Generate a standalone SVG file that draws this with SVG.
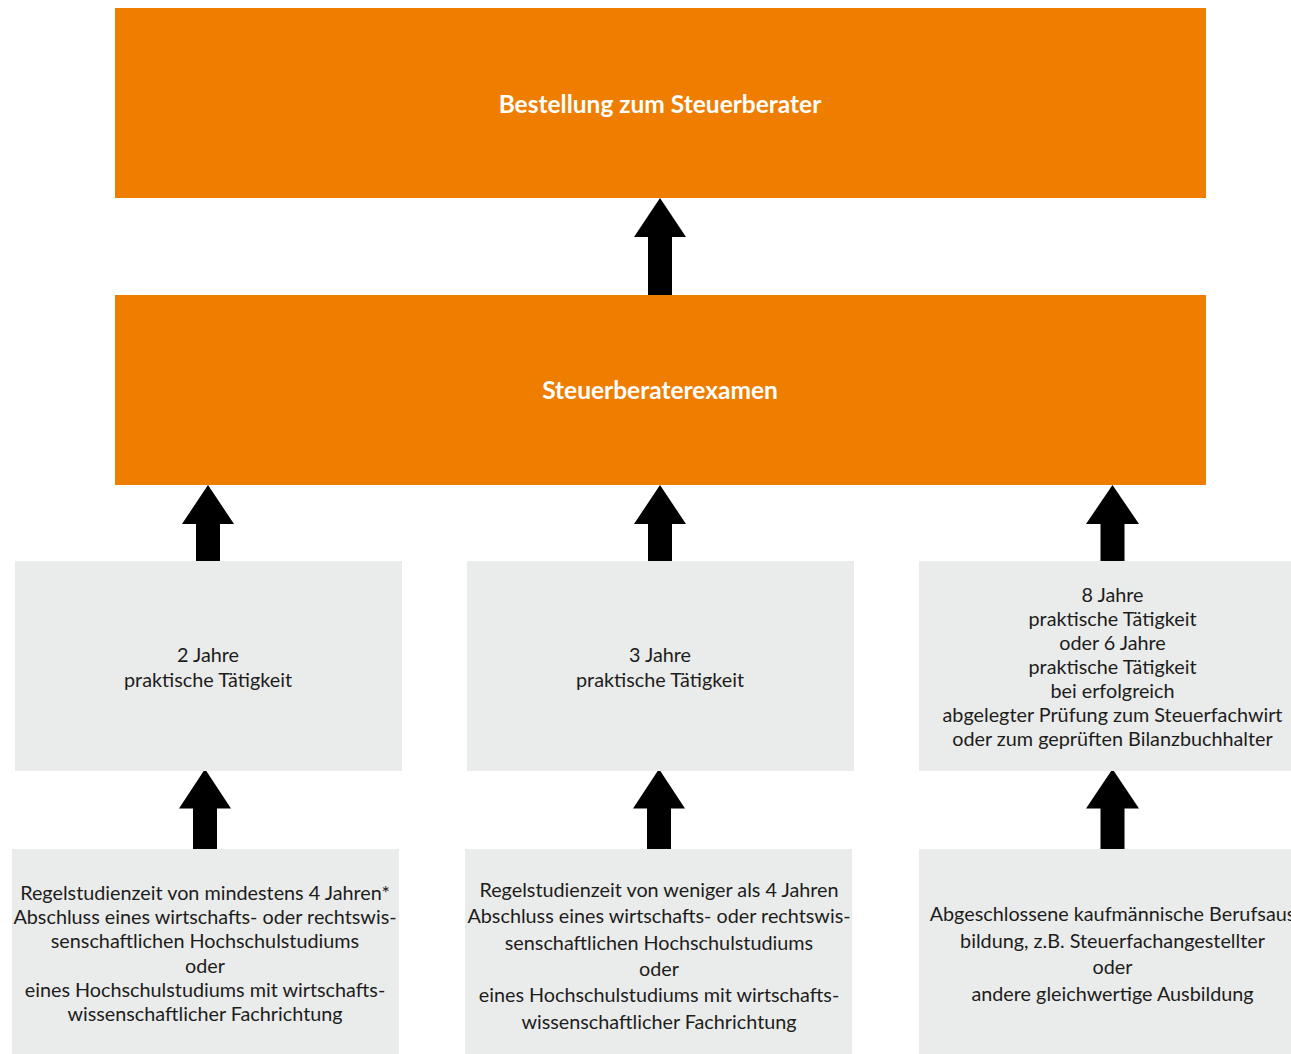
<svg xmlns="http://www.w3.org/2000/svg" width="1291" height="1054" viewBox="0 0 1291 1054">
  <style>
    .orange { fill: #EF7D00; }
    .gray { fill: #EAEBEB; }
    .title { font-family: Lato, "Liberation Sans", sans-serif; font-weight: bold; font-size: 24.5px; fill: #ffffff; text-anchor: middle; }
    .body { font-family: Lato, "Liberation Sans", sans-serif; font-size: 19.8px; fill: #1d1d1b; text-anchor: middle; }
    .arrow { fill: #000000; }
  </style>
  <rect width="1291" height="1054" fill="#ffffff"/>

  <g id="connectors">
    <polygon class="arrow" points="660,198 686,237 672,237 672,295 648,295 648,237 634,237"/>
    <polygon class="arrow" points="208,485 234,524 220,524 220,561 196,561 196,524 182,524"/>
    <polygon class="arrow" points="660,485 686,524 672,524 672,561 648,561 648,524 634,524"/>
    <polygon class="arrow" points="1112.5,485 1139,524 1124.5,524 1124.5,561 1100.5,561 1100.5,524 1086,524"/>
    <polygon class="arrow" points="205,769 231,808.5 217,808.5 217,849 193,849 193,808.5 179,808.5"/>
    <polygon class="arrow" points="659,769 685,808.5 671,808.5 671,849 647,849 647,808.5 633,808.5"/>
    <polygon class="arrow" points="1112.5,769 1139,808.5 1124.5,808.5 1124.5,849 1100.5,849 1100.5,808.5 1086,808.5"/>
  </g>

  <g id="bestellung">
    <rect class="orange" x="115" y="8" width="1091" height="190"/>
    <text class="title" x="660" y="113">Bestellung zum Steuerberater</text>
  </g>

  <g id="examen">
    <rect class="orange" x="115" y="295" width="1091" height="190"/>
    <text class="title" x="660" y="398.5">Steuerberaterexamen</text>
  </g>

  <g id="praxis2">
    <rect class="gray" x="15" y="561" width="387" height="210"/>
    <text class="body" x="208" y="661.5">2 Jahre</text>
    <text class="body" x="208" y="686.5">praktische Tätigkeit</text>
  </g>

  <g id="praxis3">
    <rect class="gray" x="467" y="561" width="387" height="210"/>
    <text class="body" x="660" y="661.5">3 Jahre</text>
    <text class="body" x="660" y="686.5">praktische Tätigkeit</text>
  </g>

  <g id="praxis8">
    <rect class="gray" x="919" y="561" width="372" height="210"/>
    <text class="body" x="1112.5" y="602">8 Jahre</text>
    <text class="body" x="1112.5" y="626">praktische Tätigkeit</text>
    <text class="body" x="1112.5" y="650">oder 6 Jahre</text>
    <text class="body" x="1112.5" y="674">praktische Tätigkeit</text>
    <text class="body" x="1112.5" y="698">bei erfolgreich</text>
    <text class="body" x="1112.5" y="722">abgelegter Prüfung zum Steuerfachwirt</text>
    <text class="body" x="1112.5" y="746">oder zum geprüften Bilanzbuchhalter</text>
  </g>

  <g id="studium4">
    <rect class="gray" x="12" y="849" width="387" height="205"/>
    <text class="body" x="205" y="900">Regelstudienzeit von mindestens 4 Jahren*</text>
    <text class="body" x="205" y="924.2">Abschluss eines wirtschafts- oder rechtswis-</text>
    <text class="body" x="205" y="948.4">senschaftlichen Hochschulstudiums</text>
    <text class="body" x="205" y="972.6">oder</text>
    <text class="body" x="205" y="996.8">eines Hochschulstudiums mit wirtschafts-</text>
    <text class="body" x="205" y="1021">wissenschaftlicher Fachrichtung</text>
  </g>

  <g id="studium3">
    <rect class="gray" x="465" y="849" width="387" height="205"/>
    <text class="body" x="659" y="897">Regelstudienzeit von weniger als 4 Jahren</text>
    <text class="body" x="659" y="923.3">Abschluss eines wirtschafts- oder rechtswis-</text>
    <text class="body" x="659" y="949.6">senschaftlichen Hochschulstudiums</text>
    <text class="body" x="659" y="975.9">oder</text>
    <text class="body" x="659" y="1002.2">eines Hochschulstudiums mit wirtschafts-</text>
    <text class="body" x="659" y="1028.5">wissenschaftlicher Fachrichtung</text>
  </g>

  <g id="ausbildung">
    <rect class="gray" x="919" y="849" width="372" height="205"/>
    <text class="body" x="1112.5" y="921">Abgeschlossene kaufmännische Berufsaus</text>
    <text class="body" x="1112.5" y="947.7">bildung, z.B. Steuerfachangestellter</text>
    <text class="body" x="1112.5" y="974.4">oder</text>
    <text class="body" x="1112.5" y="1001.1">andere gleichwertige Ausbildung</text>
  </g>
</svg>
